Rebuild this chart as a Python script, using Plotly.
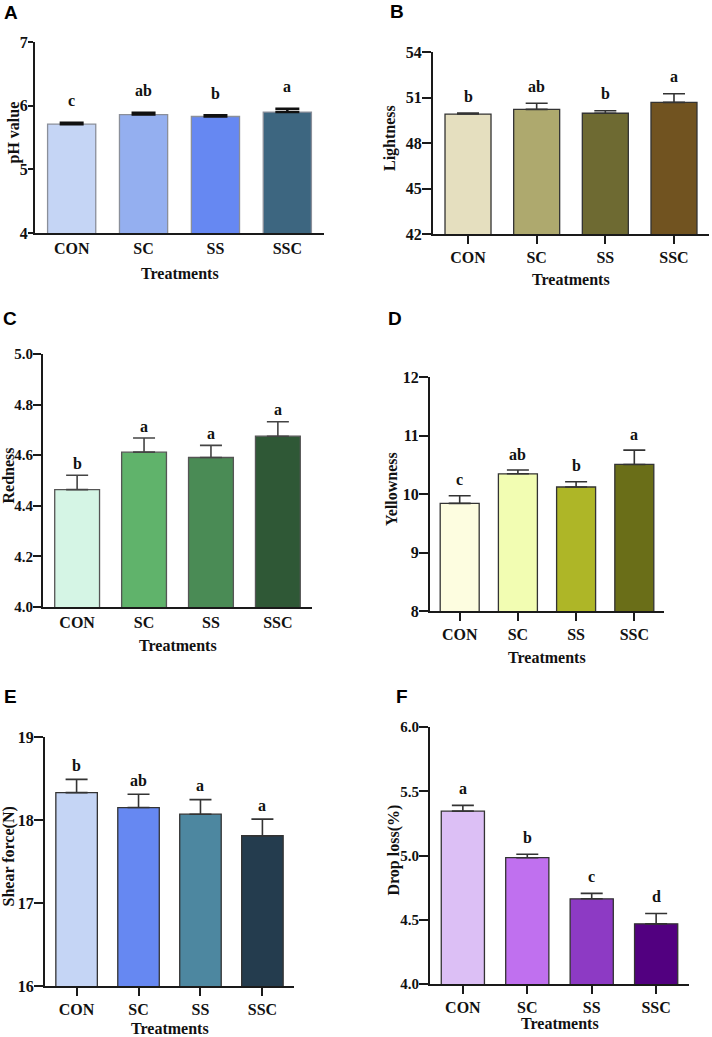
import plotly.graph_objects as go

W, H = 712, 1037

categories = ["CON", "SC", "SS", "SSC"]

ph_mean = [5.71, 5.86, 5.83, 5.90]
ph_err = [0.02, 0.03, 0.02, 0.05]
ph_sig = ["c", "ab", "b", "a"]

light_mean = [49.91, 50.22, 49.96, 50.68]
light_err = [0.06, 0.40, 0.17, 0.57]
light_sig = ["b", "ab", "b", "a"]

red_mean = [4.464, 4.612, 4.591, 4.675]
red_err = [0.057, 0.056, 0.048, 0.057]
red_sig = ["b", "a", "a", "a"]

yellow_mean = [9.84, 10.345, 10.12, 10.505]
yellow_err = [0.13, 0.065, 0.09, 0.245]
yellow_sig = ["c", "ab", "b", "a"]

shear_mean = [18.33, 18.15, 18.07, 17.81]
shear_err = [0.16, 0.16, 0.175, 0.20]
shear_sig = ["b", "ab", "a", "a"]

drop_mean = [5.345, 4.983, 4.663, 4.468]
drop_err = [0.045, 0.027, 0.042, 0.081]
drop_sig = ["a", "b", "c", "d"]

panels = [
    dict(label="A", title="pH value", mean=ph_mean, err=ph_err, sig=ph_sig,
         colors=["#c5d5f5", "#94aff0", "#6688f2", "#3d6680"], edge="#8a8f9a",
         ecol="#111111", ethick=2.5, ewidth=12, ylen=5, yfs=16,
         px=(35, 324), py=(42, 233), rng=(4, 7), dtick=1, fmt="d", xticks=False,
         ydx=22, xdy=41, shift=22, lab=(10.5, 12.7)),
    dict(label="B", title="Lightness", mean=light_mean, err=light_err, sig=light_sig,
         colors=["#e5dfbf", "#aea96e", "#6e6a32", "#715320"], edge="#333333",
         ecol="#333333", ethick=1.6, ewidth=11, ylen=9, yfs=16,
         px=(433, 709), py=(52, 234), rng=(42, 54), dtick=3, fmt="d", xticks=True,
         ydx=43, xdy=45, shift=17, lab=(396.5, 11.7)),
    dict(label="C", title="Redness", mean=red_mean, err=red_err, sig=red_sig,
         colors=["#d5f5e5", "#60b36b", "#4a8b55", "#2f5836"], edge="#555555",
         ecol="#444444", ethick=1.6, ewidth=11, ylen=8, yfs=15,
         px=(43, 312), py=(354, 607), rng=(4, 5), dtick=0.2, fmt=".1f", xticks=False,
         ydx=35, xdy=38, shift=12, lab=(10.0, 319)),
    dict(label="D", title="Yellowness", mean=yellow_mean, err=yellow_err, sig=yellow_sig,
         colors=["#fdfde0", "#f2fdb2", "#aeb627", "#6a6e18"], edge="#333333",
         ecol="#333333", ethick=1.6, ewidth=11, ylen=9, yfs=16,
         px=(430, 664), py=(377, 611), rng=(8, 12), dtick=1, fmt="d", xticks=True,
         ydx=38, xdy=46, shift=16, lab=(395.0, 319)),
    dict(label="E", title="Shear force(N)", mean=shear_mean, err=shear_err, sig=shear_sig,
         colors=["#c5d5f5", "#6688f2", "#4d87a0", "#243c4e"], edge="#333333",
         ecol="#333333", ethick=1.6, ewidth=11, ylen=9, yfs=16,
         px=(45, 294), py=(737, 986), rng=(16, 19), dtick=1, fmt="d", xticks=True,
         ydx=37, xdy=42, shift=14, lab=(10.5, 696)),
    dict(label="F", title="Drop loss(%)", mean=drop_mean, err=drop_err, sig=drop_sig,
         colors=["#dcbff5", "#c070ef", "#8d3ac4", "#520080"], edge="#333333",
         ecol="#333333", ethick=1.6, ewidth=11, ylen=9, yfs=15,
         px=(430, 689), py=(727, 984), rng=(4, 6), dtick=0.5, fmt=".1f", xticks=True,
         ydx=37, xdy=39, shift=17, lab=(401.5, 696)),
]

SERIF = "Times New Roman, Liberation Serif, serif"
SANS = "Arial, Liberation Sans, sans-serif"

fig = go.Figure()
annotations = []
layout = {}

for i, p in enumerate(panels, start=1):
    xa = "x" if i == 1 else f"x{i}"
    ya = "y" if i == 1 else f"y{i}"
    xkey = "xaxis" if i == 1 else f"xaxis{i}"
    ykey = "yaxis" if i == 1 else f"yaxis{i}"

    fig.add_trace(go.Bar(
        x=categories, y=p["mean"], xaxis=xa, yaxis=ya,
        marker=dict(color=p["colors"], line=dict(color=p["edge"], width=1.3)),
        error_y=dict(type="data", symmetric=False, array=p["err"],
                     arrayminus=[0] * len(p["err"]), color=p["ecol"],
                     thickness=p["ethick"], width=p["ewidth"]),
        showlegend=False, hoverinfo="skip",
    ))

    x0, x1 = p["px"]
    yt, yb = p["py"]
    layout[xkey] = dict(
        domain=[x0 / W, x1 / W], anchor=ya, type="category", automargin=False,
        range=[-0.51, 3.51], showline=True, linecolor="#1a1a1a", linewidth=2,
        ticks="outside" if p["xticks"] else "", ticklen=8, tickwidth=2,
        tickcolor="#1a1a1a", showgrid=False, zeroline=False,
        tickfont=dict(family=SERIF, size=16, color="#111111", weight="bold"),
        fixedrange=True,
    )
    r0, r1 = p["rng"]
    nt = int(round((r1 - r0) / p["dtick"]))
    tv = [r0 + k * p["dtick"] for k in range(nt + 1)]
    layout[ykey] = dict(
        domain=[1 - yb / H, 1 - yt / H], anchor=xa, range=[r0, r1], automargin=False,
        tickvals=tv, tickformat=p["fmt"], showline=True, linecolor="#1a1a1a",
        linewidth=2, ticks="outside", ticklen=p["ylen"], tickwidth=2, tickcolor="#1a1a1a",
        ticklabelstandoff=-3,
        showgrid=False, zeroline=False,
        tickfont=dict(family=SERIF, size=p["yfs"], color="#111111", weight="bold"),
        fixedrange=True,
    )

    # significance letters
    for c, m, e, s in zip(categories, p["mean"], p["err"], p["sig"]):
        annotations.append(dict(
            x=c, y=m + e, xref=xa, yref=ya, text=s, showarrow=False,
            yanchor="middle", yshift=p["shift"],
            font=dict(family=SERIF, size=16, color="#111111", weight="bold"),
        ))
    # x title
    annotations.append(dict(
        x=(x0 + x1) / 2 / W, y=1 - (yb + p["xdy"]) / H, xref="paper", yref="paper",
        text="Treatments", showarrow=False, xanchor="center", yanchor="middle",
        font=dict(family=SERIF, size=16, color="#111111", weight="bold"),
    ))
    # y title
    annotations.append(dict(
        x=(x0 - p["ydx"]) / W, y=1 - ((yt + yb) / 2 - 5) / H, xref="paper", yref="paper",
        text=p["title"], showarrow=False, xanchor="center", yanchor="middle",
        textangle=-90,
        font=dict(family=SERIF, size=16, color="#111111", weight="bold"),
    ))
    # panel label
    lx, ly = p["lab"]
    annotations.append(dict(
        x=lx / W, y=1 - ly / H, xref="paper", yref="paper", text=p["label"],
        showarrow=False, xanchor="center", yanchor="middle",
        font=dict(family=SANS, size=19, color="#000000", weight="bold"),
    ))

fig.update_layout(
    width=W, height=H, margin=dict(l=0, r=0, t=0, b=0, autoexpand=False),
    paper_bgcolor="white", plot_bgcolor="white", bargap=0.33,
    annotations=annotations, **layout,
)

fig.write_html("out.html", config={"displayModeBar": False},
               post_script="document.body.style.margin='0px';document.body.style.padding='0px';")
